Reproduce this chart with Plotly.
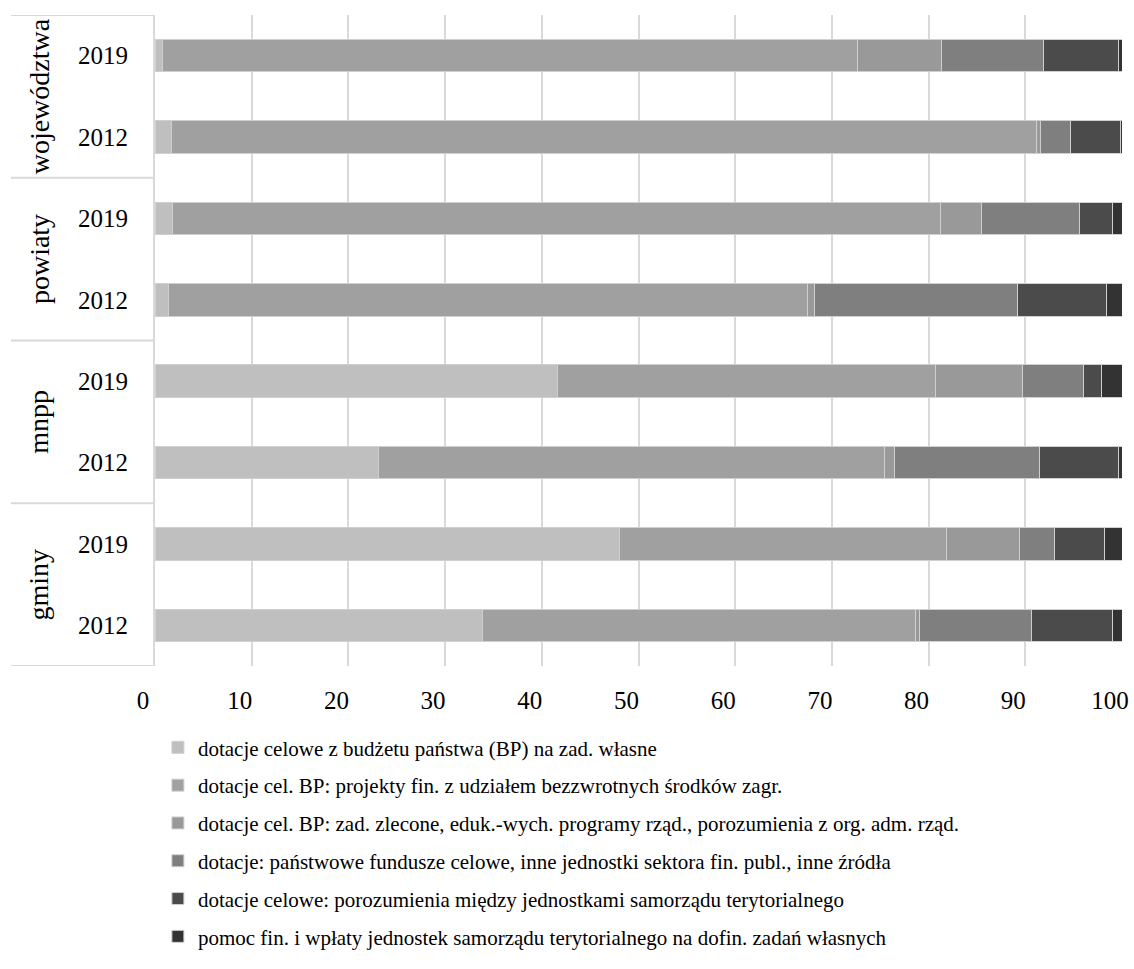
import plotly.graph_objects as go

groups = ["gminy", "gminy", "mnpp", "mnpp", "powiaty", "powiaty", "województwa", "województwa"]
years = ["2012", "2019", "2012", "2019", "2012", "2019", "2012", "2019"]
group_names = ["gminy", "mnpp", "powiaty", "województwa"]

series_names = [
    "dotacje celowe z budżetu państwa (BP) na zad. własne",
    "dotacje cel. BP: projekty fin. z udziałem bezzwrotnych środków zagr.",
    "dotacje cel. BP: zad. zlecone, eduk.-wych. programy rząd., porozumienia z org. adm. rząd.",
    "dotacje: państwowe fundusze celowe, inne jednostki sektora fin. publ., inne źródła",
    "dotacje celowe: porozumienia między jednostkami samorządu terytorialnego",
    "pomoc fin. i wpłaty jednostek samorządu terytorialnego na dofin. zadań własnych",
]

# order: gminy 2012, gminy 2019, mnpp 2012, mnpp 2019, powiaty 2012, powiaty 2019, woj 2012, woj 2019
s1 = [33.9, 48.0, 23.1, 41.6, 1.4, 1.8, 1.7, 0.8]
s2 = [44.7, 33.8, 52.3, 39.1, 66.1, 79.4, 89.5, 71.8]
s3 = [0.5, 7.6, 1.1, 9.0, 0.7, 4.3, 0.4, 8.7]
s4 = [11.5, 3.6, 15.0, 6.3, 21.0, 10.1, 3.1, 10.6]
s5 = [8.4, 5.2, 8.1, 1.9, 9.2, 3.4, 5.1, 7.7]
s6 = [1.0, 1.8, 0.4, 2.1, 1.6, 1.0, 0.2, 0.4]
series_values = [s1, s2, s3, s4, s5, s6]

x_ticks = [0, 10, 20, 30, 40, 50, 60, 70, 80, 90, 100]

colors = ["#BFBFBF", "#A0A0A0", "#999999", "#7F7F7F", "#4B4B4B", "#333333"]

FONT = "Liberation Serif"
cats = [f"{g} {y}" for g, y in zip(groups, years)]

fig = go.Figure()
for i, (name, vals) in enumerate(zip(series_names, series_values)):
    fig.add_trace(go.Bar(
        y=cats, x=vals, name=name, orientation="h",
        marker=dict(color=colors[i], line=dict(color="#cfcfcf", width=1)),
        legendgroup=f"g{i}",
    ))

# group divider lines in the label area
boundaries = [-0.5, 1.5, 3.5, 5.5, 7.5]
for b in boundaries:
    fig.add_shape(type="line", xref="paper", yref="y", x0=-0.149, x1=0, y0=b, y1=b,
                  line=dict(color="#d9d9d9", width=2))

for k, g in enumerate(group_names):
    fig.add_annotation(text=g, xref="paper", yref="y", x=-0.12, y=2 * k + 0.5,
                       xanchor="center", yanchor="middle",
                       textangle=-90, showarrow=False,
                       font=dict(family=FONT, size=28, color="#000"))

fig.update_layout(
    width=1134, height=969,
    margin=dict(l=155, r=12, t=15, b=303),
    barmode="stack", bargap=0.6,
    plot_bgcolor="white", paper_bgcolor="white",
    font=dict(family=FONT, size=25, color="#000"),
    showlegend=True,
    legend=dict(x=0.003, y=-0.094, xanchor="left", yanchor="top",
                traceorder="grouped", tracegroupgap=7.5,
                font=dict(family=FONT, size=21, color="#000")),
    xaxis=dict(range=[0, 100], tickvals=x_ticks, showgrid=True, gridcolor="#d9d9d9",
               gridwidth=2, zeroline=False, showline=False, ticks="", automargin=False,
               ticklabelstandoff=17, ticklabelshift=-12),
    yaxis=dict(categoryorder="array", categoryarray=cats, tickvals=cats, ticktext=years,
               range=[-0.5, 7.5], showgrid=False, showline=True, linecolor="#d9d9d9",
               linewidth=2, ticks="", ticklabelstandoff=20, zeroline=False, automargin=False),
)

fig.write_html("out.html", config={"displayModeBar": False},
               post_script="document.body.style.margin='0';")
